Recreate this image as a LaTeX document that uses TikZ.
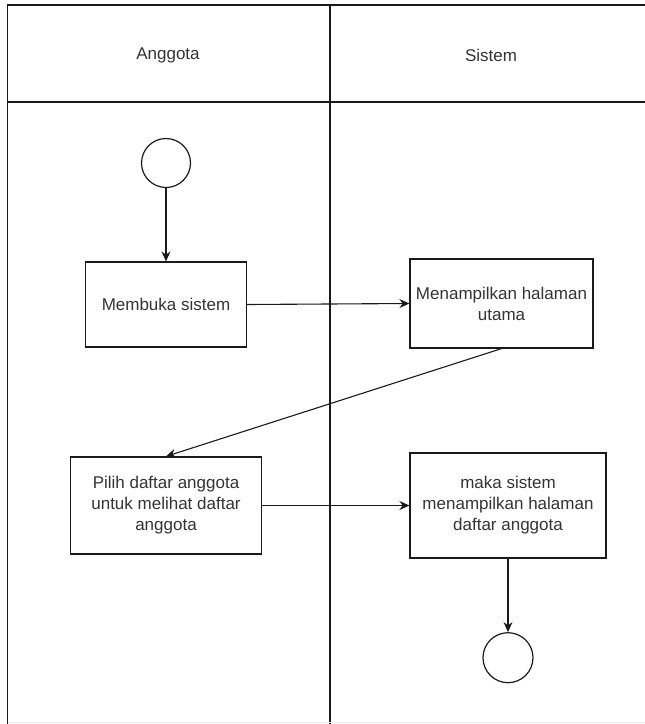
\documentclass[tikz,border=0pt]{standalone}
\usepackage{fontspec}
\setmainfont{Liberation Sans}
\usetikzlibrary{arrows.meta}
\definecolor{txt}{HTML}{333333}
\definecolor{ln}{HTML}{1A1A1A}
\tikzset{
  lane/.style={draw=ln, line width=1.3pt},
  actbox/.style={draw=ln, line width=1.2pt, rectangle, align=center, text=txt,
    font=\fontsize{17}{21}\selectfont, inner sep=0pt},
  startend/.style={draw=ln, line width=1.2pt, circle, inner sep=0pt},
  lbl/.style={text=txt, font=\fontsize{17}{21}\selectfont},
  flow/.style={draw=ln, line width=1.1pt, -{Stealth[length=10pt,width=9pt]}}
}
\begin{document}
\begin{tikzpicture}[x=1pt,y=-1pt]
\useasboundingbox (0,0) rectangle (645,724);
% swimlane frame
\draw[lane] (7.5,724) -- (7.5,5) -- (645,5);
\draw[lane] (7.5,102) -- (645,102);
\draw[lane] (330,5) -- (330,724);
\draw[gray!15, line width=1pt] (7.5,722) -- (645,722);
% headers
\node[lbl] (hA) at (168,55) {Anggota};
\node[lbl] (hS) at (491,55) {Sistem};
% nodes
\node[startend, minimum size=49pt] (start) at (166,163) {};
\node[actbox, minimum width=161pt, minimum height=85pt] (b1) at (166,304.5) {Membuka sistem};
\node[actbox, minimum width=183pt, minimum height=89pt] (b2) at (501.5,303.5) {Menampilkan halaman\\utama};
\node[actbox, minimum width=191pt, minimum height=97pt] (b3) at (166,505.5) {Pilih daftar anggota\\untuk melihat daftar\\anggota};
\node[actbox, minimum width=196pt, minimum height=105pt] (b4) at (508,505.5) {maka sistem\\menampilkan halaman\\daftar anggota};
\node[startend, minimum size=50pt] (end) at (508,657.7) {};
% connectors
\draw[flow] (start) -- (b1);
\draw[flow] (b1.east) -- (b2.west);
\draw[flow] (b2.south) -- (b3.north);
\draw[flow] (b3.east) -- (b4.west);
\draw[flow] (b4) -- (end);
\end{tikzpicture}
\end{document}
